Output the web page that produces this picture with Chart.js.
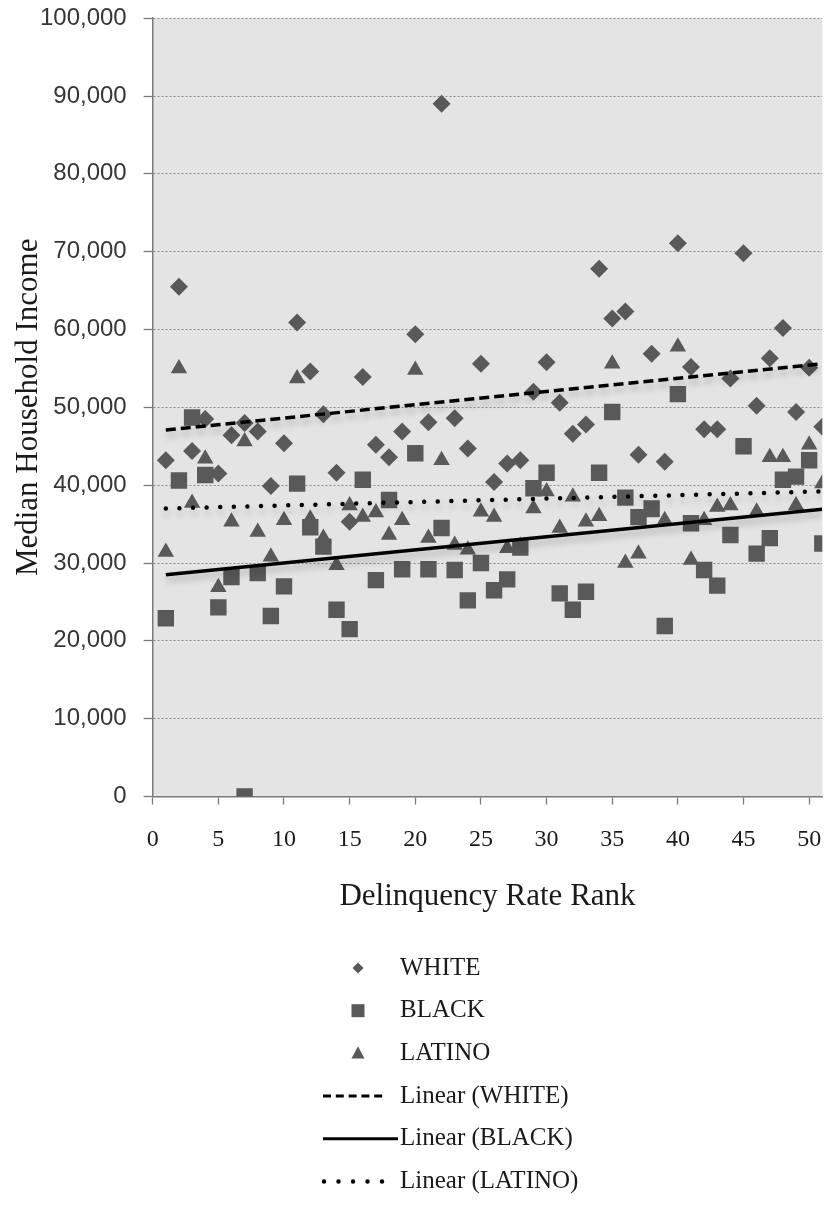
<!DOCTYPE html>
<html><head><meta charset="utf-8">
<script src="https://cdn.jsdelivr.net/npm/chart.js@4.4.1/dist/chart.umd.min.js"></script>
<style>html,body{margin:0;padding:0;background:#fff;overflow:hidden}canvas{display:block}</style>
</head><body><canvas id="c" width="827" height="1213" style="width:827px;height:1213px"></canvas>
<script>
// ---- data ----
const ranks = [1,2,3,4,5,6,7,8,9,10,11,12,13,14,15,16,17,18,19,20,21,22,23,24,25,26,27,28,29,30,31,32,33,34,35,36,37,38,39,40,41,42,43,44,45,46,47,48,49,50,51];
const whiteIncome = [43200,65500,44400,48500,41500,46400,48000,46900,39900,45400,
  60900,54600,49100,41600,35300,53900,45200,43600,46900,59400,
  48100,89000,48600,44700,55600,40400,42800,43200,52000,55800,
  50600,46600,47800,67800,61400,62300,43900,56900,43000,71100,
  55200,47200,47200,53700,69800,50200,56300,60200,49400,55100,47500];
const blackIncome = [22900,40600,48700,41300,24300,28200,0,28700,23200,27000,
  40200,34600,32100,24000,21500,40700,27800,38100,29200,44100,
  29200,34500,29100,25200,30000,26500,27900,32000,39600,41600,
  26100,24000,26300,41600,49400,38400,35900,37000,21900,51700,
  35100,29100,27100,33600,45000,31200,33200,40700,41100,43200,32500];
const latinoIncome = [31400,55000,37700,43400,26900,35300,45600,34000,30800,35500,
  53700,35700,33200,29700,37400,35900,36500,33600,35500,54800,
  33200,43200,32300,31700,36600,35900,31900,32200,37000,39200,
  34500,38500,35300,36000,55600,30000,31200,36500,35500,57800,
  30400,35500,37200,37400,44800,36600,43600,43600,37400,45200,40200];
const trendX = [1, 51];
const whiteTrend = [47100, 55600];
const blackTrend = [28500, 36900];
const latinoTrend = [37000, 39200];
const seriesNames = ['WHITE','BLACK','LATINO'];
const xTitle = 'Delinquency Rate Rank';
const yTitle = 'Median Household Income';

// ---- styles ----
const MARK = '#595959';
const pts = ys => ranks.map((r,i)=>({x:r, y:ys[i]}));
const line = ys => trendX.map((x,i)=>({x:x, y:ys[i]}));

const bgPlugin = { id:'bg', beforeDraw(chart){
  const {ctx, chartArea:a} = chart;
  ctx.save(); ctx.fillStyle = '#e4e4e4';
  ctx.fillRect(a.left, a.top, a.right-a.left, a.bottom-a.top); ctx.restore();
}};
const shadowPlugin = { id:'shadow',
  beforeDatasetDraw(chart, args){
    if (chart.data.datasets[args.index].isTrend){
      const ctx = chart.ctx; ctx.save();
      ctx.shadowColor = 'rgba(0,0,0,0.25)'; ctx.shadowBlur = 7; ctx.shadowOffsetY = 5; ctx.shadowOffsetX = 1;
    }
  },
  afterDatasetDraw(chart, args){ if (chart.data.datasets[args.index].isTrend) chart.ctx.restore(); }
};
function drawMarker(ctx, style, x, y, r){
  ctx.beginPath();
  if (style === 'rectRot'){ ctx.moveTo(x, y-r); ctx.lineTo(x+r, y); ctx.lineTo(x, y+r); ctx.lineTo(x-r, y); }
  else if (style === 'rect'){ ctx.rect(x-r, y-r, 2*r, 2*r); }
  else { ctx.moveTo(x, y-r*1.1); ctx.lineTo(x+r, y+r*0.8); ctx.lineTo(x-r, y+r*0.8); }
  ctx.closePath(); ctx.fill();
}
const legendPlugin = { id:'customLegend', afterDraw(chart){
  const ctx = chart.ctx;
  const top = 968, gap = 42.7, textX = 400, markX = 358;
  ctx.save();
  ctx.font = '25px "Liberation Serif"'; ctx.fillStyle = '#1a1a1a';
  ctx.textBaseline = 'middle'; ctx.textAlign = 'left';
  chart.data.datasets.forEach((ds, i) => {
    const y = top + i*gap;
    if (!ds.isTrend){
      ctx.fillStyle = MARK;
      drawMarker(ctx, ds.pointStyle, markX, y, ds.legendR);
    } else {
      ctx.save();
      ctx.strokeStyle = '#000';
      ctx.lineWidth = ds.legendW;
      ctx.lineCap = ds.legendCap;
      ctx.setLineDash(ds.legendDash);
      ctx.beginPath(); ctx.moveTo(ds.legendX0, y); ctx.lineTo(ds.legendX1, y); ctx.stroke();
      ctx.restore();
    }
    ctx.fillStyle = '#1a1a1a';
    ctx.fillText(ds.label, textX, y);
  });
  ctx.restore();
}};

const scatterBase = {type:'scatter', backgroundColor: MARK, borderColor: MARK, borderWidth: 0, pointHoverRadius: 0};
const trendBase = {type:'scatter', showLine:true, isTrend:true, pointRadius:0, borderColor:'#000', fill:false};

new Chart(document.getElementById('c'), {
  type: 'scatter',
  data: { datasets: [
    Object.assign({}, scatterBase, {label: seriesNames[0], data: pts(whiteIncome), pointStyle:'rectRot', pointRadius: 9, order: 6, legendR: 5.5}),
    Object.assign({}, scatterBase, {label: seriesNames[1], data: pts(blackIncome), pointStyle:'rect', pointRadius: 11.6, order: 5, legendR: 6.5}),
    Object.assign({}, scatterBase, {label: seriesNames[2], data: pts(latinoIncome), pointStyle:'triangle', pointRadius: 9.5, order: 4, legendR: 6.5}),
    Object.assign({}, trendBase, {label: 'Linear (' + seriesNames[0] + ')', data: line(whiteTrend), borderWidth: 3.5, borderDash:[10,5], order: 3,
      legendW: 3, legendDash:[8,4.8], legendCap:'butt', legendX0: 323, legendX1: 387}),
    Object.assign({}, trendBase, {label: 'Linear (' + seriesNames[1] + ')', data: line(blackTrend), borderWidth: 3.5, borderDash:[], order: 2,
      legendW: 3, legendDash:[], legendCap:'butt', legendX0: 323, legendX1: 398}),
    Object.assign({}, trendBase, {label: 'Linear (' + seriesNames[2] + ')', data: line(latinoTrend), borderWidth: 4.5, borderDash:[0,13.6], borderCapStyle:'round', order: 1,
      legendW: 4.5, legendDash:[0,14.5], legendCap:'round', legendX0: 324, legendX1: 384})
  ]},
  options: {
    responsive: false, maintainAspectRatio: false, animation: false, devicePixelRatio: 1,
    layout: { autoPadding: false, padding: { top: 18.2, right: 4.7, left: 0, bottom: 297.8 } },
    plugins: { legend: { display: false }, tooltip: { enabled: false } },
    scales: {
      x: {
        type: 'linear', min: 0, max: 51,
        afterFit: s => { s.height = 118.7; s.paddingLeft = 0; s.paddingRight = 0; },
        ticks: { stepSize: 5, includeBounds: false, padding: 21, color: '#1a1a1a', font: { family: 'Liberation Serif', size: 24 } },
        grid: { drawOnChartArea: false, drawTicks: true, tickLength: 8, tickColor: '#7a7a7a', tickWidth: 1.3 },
        border: { display: true, color: '#7a7a7a', width: 1.5 },
        title: { display: true, text: xTitle, color: '#1a1a1a', font: { family: 'Liberation Serif', size: 31 }, padding: { top: 0, bottom: 0 } }
      },
      y: {
        type: 'linear', min: 0, max: 100000,
        afterFit: s => { s.width = 152.7; s.paddingTop = 0; s.paddingBottom = 0; },
        ticks: { stepSize: 10000, padding: 17, color: '#363636', font: { family: 'Liberation Sans', size: 24 },
          callback: v => v.toLocaleString('en-US') },
        grid: { color: '#8a8a8a', lineWidth: 1, drawTicks: true, tickLength: 9, tickColor: '#7a7a7a', tickWidth: 1.3, tickBorderDash: [] },
        border: { display: true, color: '#7a7a7a', width: 1.5, dash: [2,2] },
        title: { display: true, text: yTitle, color: '#1a1a1a', font: { family: 'Liberation Serif', size: 31 }, padding: { top: 10, bottom: 0 } }
      }
    }
  },
  plugins: [bgPlugin, shadowPlugin, legendPlugin]
});
</script></body></html>
